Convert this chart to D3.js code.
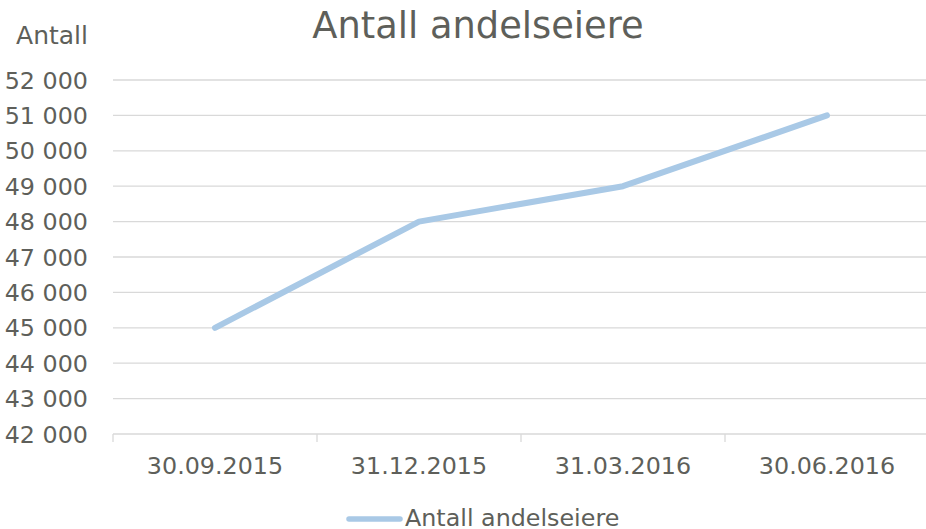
<!DOCTYPE html>
<html lang="no">
<head>
<meta charset="utf-8">
<title>Antall andelseiere</title>
<script src="https://cdn.jsdelivr.net/npm/d3@7"></script>
<style>
  html, body { margin: 0; padding: 0; background: #fff; }
  svg { display: block; font-family: "DejaVu Sans", Verdana, sans-serif; }
</style>
</head>
<body>
<div id="chart"></div>
<script>
// data
const categories = ["30.09.2015", "31.12.2015", "31.03.2016", "30.06.2016"];
const values = [45000, 48000, 49000, 51000];
const yTicks = [42000, 43000, 44000, 45000, 46000, 47000, 48000, 49000, 50000, 51000, 52000];
const seriesName = "Antall andelseiere";

const width = 926, height = 529;
const plot = { left: 113, right: 929, top: 80, bottom: 434 };
const textColor = "#5e5f5a";
const gridColor = "#d9d9d9";
const lineColor = "#a9c9e6";

const svg = d3.select("#chart").append("svg")
    .attr("width", width)
    .attr("height", height);

const x = d3.scaleBand().domain(categories).range([plot.left, plot.right]);
const y = d3.scaleLinear().domain([42000, 52000]).range([plot.bottom, plot.top]);

const fmt = d => d3.format(",")(d).replace(/,/g, " ");

// gridlines
svg.append("g")
    .selectAll("line")
    .data(yTicks.slice(1))
    .join("line")
    .attr("x1", plot.left).attr("x2", plot.right)
    .attr("y1", d => y(d)).attr("y2", d => y(d))
    .attr("stroke", gridColor)
    .attr("stroke-width", 1.3);

// x axis base + tick marks at category borders
const xAxis = svg.append("g");
xAxis.append("line")
    .attr("x1", plot.left).attr("x2", plot.right)
    .attr("y1", plot.bottom).attr("y2", plot.bottom)
    .attr("stroke", gridColor).attr("stroke-width", 1.3);
xAxis.selectAll("line.tick")
    .data(categories)
    .join("line")
    .attr("class", "tick")
    .attr("x1", d => x(d)).attr("x2", d => x(d))
    .attr("y1", plot.bottom).attr("y2", plot.bottom + 8)
    .attr("stroke", gridColor).attr("stroke-width", 1.3);
xAxis.selectAll("text")
    .data(categories)
    .join("text")
    .attr("x", d => x(d) + x.bandwidth() / 2)
    .attr("y", 474)
    .attr("text-anchor", "middle")
    .attr("font-size", 23.8)
    .attr("fill", textColor)
    .text(d => d);

// y labels
svg.append("g")
    .selectAll("text")
    .data(yTicks)
    .join("text")
    .attr("x", 88)
    .attr("y", d => y(d))
    .attr("dy", "0.36em")
    .attr("text-anchor", "end")
    .attr("font-size", 23.8)
    .attr("fill", textColor)
    .text(fmt);

svg.append("text")
    .attr("x", 88).attr("y", 44)
    .attr("text-anchor", "end")
    .attr("font-size", 25)
    .attr("fill", textColor)
    .text("Antall");

// title
svg.append("text")
    .attr("x", 478).attr("y", 38)
    .attr("text-anchor", "middle")
    .attr("font-size", 36.8)
    .attr("fill", textColor)
    .text(seriesName);

// the series line
const line = d3.line()
    .x((d, i) => x(categories[i]) + x.bandwidth() / 2)
    .y(d => y(d));

svg.append("path")
    .datum(values)
    .attr("d", line)
    .attr("fill", "none")
    .attr("stroke", lineColor)
    .attr("stroke-width", 6)
    .attr("stroke-linecap", "round")
    .attr("stroke-linejoin", "round");

// legend
const legend = svg.append("g");
legend.append("line")
    .attr("x1", 349).attr("x2", 400)
    .attr("y1", 519).attr("y2", 519)
    .attr("stroke", lineColor)
    .attr("stroke-width", 5.5)
    .attr("stroke-linecap", "round");
legend.append("text")
    .attr("x", 405).attr("y", 526)
    .attr("font-size", 23.8)
    .attr("fill", textColor)
    .text(seriesName);
</script>
</body>
</html>
